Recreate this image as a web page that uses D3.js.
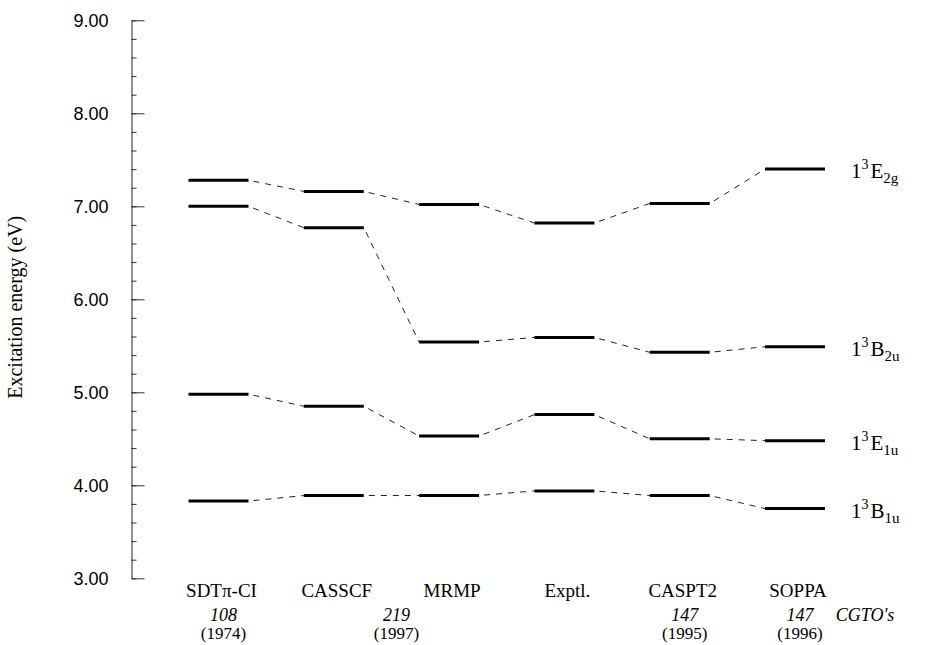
<!DOCTYPE html>
<html>
<head>
<meta charset="utf-8">
<script src="https://cdn.jsdelivr.net/npm/d3@7"></script>
<style>
  body { margin: 0; background: #fff; }
  svg { display: block; }
</style>
</head>
<body>
<div id="chart"></div>
<script>
// Methods along the x axis
const methods = ["SDTπ-CI", "CASSCF", "MRMP", "Exptl.", "CASPT2", "SOPPA"];
// Excitation energies (eV) per state, one value per method
const stateE2g = [7.28, 7.16, 7.02, 6.82, 7.03, 7.40];
const stateB2u = [7.00, 6.77, 5.54, 5.59, 5.43, 5.49];
const stateE1u = [4.98, 4.85, 4.53, 4.76, 4.50, 4.48];
const stateB1u = [3.83, 3.89, 3.89, 3.94, 3.89, 3.75];
// State labels: main letter and subscript
const stateNames = [["E", "2g"], ["B", "2u"], ["E", "1u"], ["B", "1u"]];
// Basis set sizes and years, anchored to a method position
const basisLabels = [["108", 0], ["219", 1.5], ["147", 4], ["147", 5]];
const yearLabels = [["(1974)", 0], ["(1997)", 1.5], ["(1995)", 4], ["(1996)", 5]];
const yTicks = [3, 4, 5, 6, 7, 8, 9];

const width = 925, height = 645;
const serif = "'Liberation Serif', 'Times New Roman', serif";
const sans = "'Liberation Sans', Arial, sans-serif";

const svg = d3.select("#chart").append("svg")
    .attr("width", width)
    .attr("height", height);

const x = d3.scaleLinear()
    .domain([0, methods.length - 1])
    .range([218.5, 795]);

const y = d3.scaleLinear()
    .domain([3, 9])
    .range([578.3, 20.3]);

const axisX = 131.5;
const halfBar = 30;

// Minor ticks every 0.2 eV
svg.append("g")
    .attr("transform", `translate(${axisX},0)`)
    .call(d3.axisLeft(y)
        .tickValues(d3.range(30, 91, 2).map(d => d / 10))
        .tickSizeInner(-5)
        .tickSizeOuter(0)
        .tickFormat(""))
    .call(g => g.select(".domain").remove())
    .selectAll("line").attr("stroke", "#333");

// Major ticks with labels
svg.append("g")
    .attr("transform", `translate(${axisX},0)`)
    .call(d3.axisLeft(y)
        .tickValues(yTicks)
        .tickSizeInner(-13)
        .tickSizeOuter(0)
        .tickPadding(23)
        .tickFormat(d3.format(".2f")))
    .call(g => g.select(".domain").attr("stroke", "#222"))
    .call(g => g.selectAll("line").attr("stroke", "#333"))
    .call(g => g.selectAll("text")
        .attr("font-family", sans)
        .attr("font-size", 18)
        .attr("fill", "#000"));

// Y axis title
svg.append("text")
    .attr("transform", `translate(22,${y(6.0) + 8}) rotate(-90)`)
    .attr("text-anchor", "middle")
    .attr("font-family", serif)
    .attr("font-size", 20)
    .text("Excitation energy (eV)");

const states = [stateE2g, stateB2u, stateE1u, stateB1u];

// Dashed connectors between neighbouring methods
states.forEach(vals => {
    const segs = d3.pairs(vals.map((v, i) => [i, v]));
    svg.append("g")
        .selectAll("line")
        .data(segs)
        .join("line")
        .attr("x1", d => x(d[0][0]) + halfBar)
        .attr("y1", d => y(d[0][1]))
        .attr("x2", d => x(d[1][0]) - halfBar)
        .attr("y2", d => y(d[1][1]))
        .attr("stroke", "#222")
        .attr("stroke-width", 1)
        .attr("stroke-dasharray", "6,6")
        .attr("stroke-dashoffset", -5);
});

// Level bars
states.forEach(vals => {
    svg.append("g")
        .selectAll("line")
        .data(vals)
        .join("line")
        .attr("x1", (d, i) => x(i) - halfBar)
        .attr("x2", (d, i) => x(i) + halfBar)
        .attr("y1", d => y(d))
        .attr("y2", d => y(d))
        .attr("stroke", "#000")
        .attr("stroke-width", 3);
});

// State labels on the right
states.forEach((vals, k) => {
    const t = svg.append("text")
        .attr("x", 851)
        .attr("y", y(vals[vals.length - 1]) + 9)
        .attr("font-family", serif)
        .attr("font-size", 21);
    t.append("tspan").text("1");
    t.append("tspan").attr("font-size", 14).attr("dy", -9).text("3");
    t.append("tspan").attr("dy", 9).attr("dx", 2).text(stateNames[k][0]);
    t.append("tspan").attr("font-size", 15).attr("dy", 5).text(stateNames[k][1]);
});

// Method names
svg.append("g")
    .selectAll("text")
    .data(methods)
    .join("text")
    .attr("x", (d, i) => x(i) + 3)
    .attr("y", 597)
    .attr("text-anchor", "middle")
    .attr("font-family", serif)
    .attr("font-size", 19)
    .text(d => d);

// Basis sizes (italic)
svg.append("g")
    .selectAll("text")
    .data(basisLabels)
    .join("text")
    .attr("x", d => x(d[1]) + 5)
    .attr("y", 621)
    .attr("text-anchor", "middle")
    .attr("font-family", serif)
    .attr("font-style", "italic")
    .attr("font-size", 18)
    .text(d => d[0]);

svg.append("text")
    .attr("x", 865)
    .attr("y", 621)
    .attr("text-anchor", "middle")
    .attr("font-family", serif)
    .attr("font-style", "italic")
    .attr("font-size", 18)
    .text("CGTO's");

// Years
svg.append("g")
    .selectAll("text")
    .data(yearLabels)
    .join("text")
    .attr("x", d => x(d[1]) + 5)
    .attr("y", 639)
    .attr("text-anchor", "middle")
    .attr("font-family", serif)
    .attr("font-size", 17)
    .text(d => d[0]);
</script>
</body>
</html>
